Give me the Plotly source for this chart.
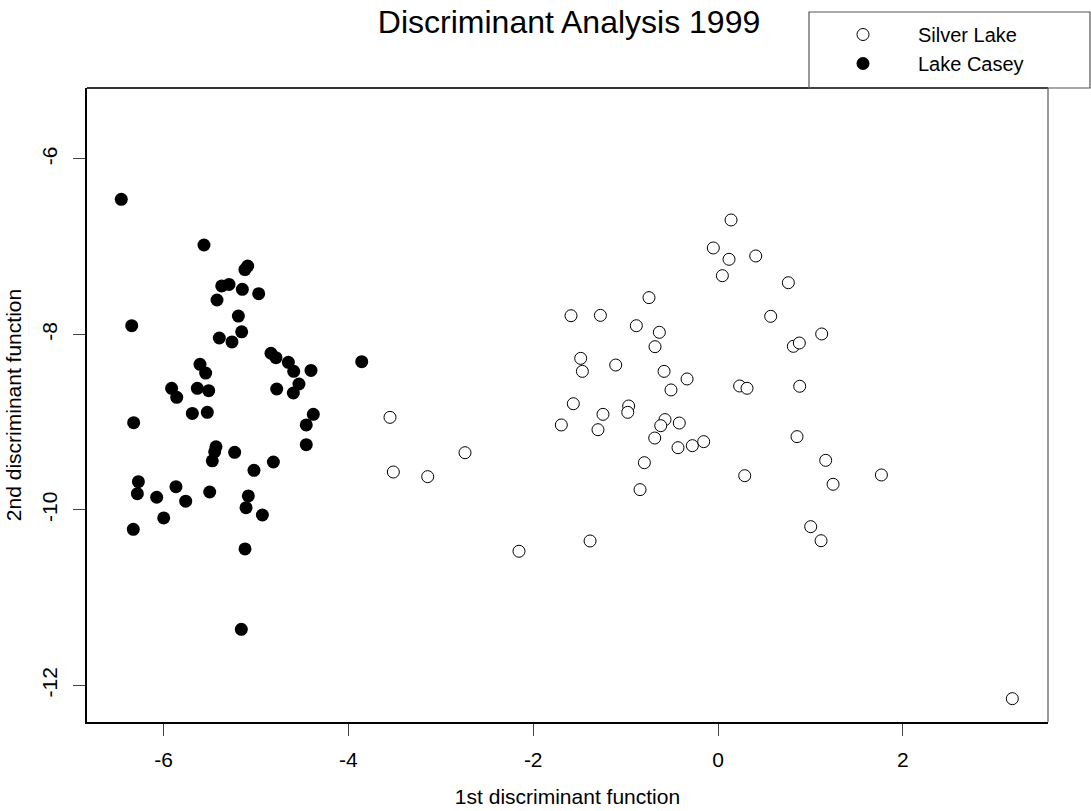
import plotly.graph_objects as go

# Lake Casey (filled)
casey_x = [-6.458, -5.563, -5.12, -5.09, -5.371, -5.292, -5.148, -4.971, -5.422, -6.345,
           -5.191, -5.155, -5.397, -5.26, -3.856, -4.838, -4.784, -4.65, -4.592, -4.405,
           -5.606, -5.545, -4.535, -5.913, -5.858, -5.635, -5.512, -4.776, -4.596, -6.324,
           -5.689, -5.527, -4.38, -4.456, -4.456, -5.433, -5.447, -5.473, -5.231, -4.812,
           -5.022, -6.273, -6.284, -6.075, -5.866, -5.761, -5.501, -5.083, -5.108, -4.931,
           -5.999, -6.328, -5.119, -5.159]
casey_y = [-6.46, -6.98, -7.26, -7.22, -7.447, -7.43, -7.485, -7.535, -7.607, -7.90,
           -7.79, -7.97, -8.04, -8.085, -8.31, -8.214, -8.264, -8.317, -8.42, -8.41,
           -8.34, -8.44, -8.564, -8.613, -8.716, -8.613, -8.64, -8.621, -8.667, -9.005,
           -8.90, -8.887, -8.91, -9.03, -9.256, -9.279, -9.336, -9.44, -9.343, -9.453,
           -9.548, -9.677, -9.814, -9.855, -9.734, -9.90, -9.795, -9.84, -9.974, -10.057,
           -10.09, -10.22, -10.444, -11.36]

# Silver Lake (open)
silver_x = [-3.55, -3.514, -3.142, -2.738, 0.141, -0.051, 0.119, 0.408, 0.047, 0.761,
            -0.747, -1.591, -1.273, 0.570, -0.884, -0.635, 1.122, -0.682, 0.815, 0.88,
            -1.486, -1.468, -1.107, -0.584, -0.335, -0.509, 0.234, 0.314, 0.884, -1.566,
            -0.967, -0.977, -1.245, -1.696, -1.299, -0.574, -0.62, -0.419, -0.685, -0.433,
            -0.278, -0.155, 0.855, -0.797, 1.165, 1.768, 0.289, 1.245, -0.844, 1.003,
            1.115, -1.385, -2.154, 3.185]
silver_y = [-8.944, -9.567, -9.62, -9.347, -6.695, -7.014, -7.143, -7.105, -7.33, -7.41,
            -7.58, -7.786, -7.782, -7.793, -7.90, -7.975, -7.994, -8.139, -8.135, -8.097,
            -8.272, -8.42, -8.348, -8.42, -8.507, -8.632, -8.587, -8.613, -8.59, -8.789,
            -8.815, -8.887, -8.91, -9.031, -9.085, -8.97, -9.039, -9.009, -9.18, -9.29,
            -9.267, -9.221, -9.164, -9.461, -9.434, -9.601, -9.609, -9.707, -9.768, -10.19,
            -10.35, -10.353, -10.47, -12.15]

x_ticks = [-6, -4, -2, 0, 2]
y_ticks = [-6, -8, -10, -12]

FONT = "Liberation Sans, Arial, sans-serif"

fig = go.Figure()
fig.add_trace(go.Scatter(
    x=silver_x, y=silver_y, mode="markers", name="Silver Lake",
    marker=dict(symbol="circle", size=12, color="white",
                line=dict(color="black", width=1)),
))
fig.add_trace(go.Scatter(
    x=casey_x, y=casey_y, mode="markers", name="Lake Casey",
    marker=dict(symbol="circle", size=13, color="black",
                line=dict(color="black", width=0)),
))

fig.update_layout(
    width=1091, height=811,
    margin=dict(l=87, r=43, t=88, b=89),
    paper_bgcolor="white", plot_bgcolor="white",
    font=dict(family=FONT, color="black"),
    title=dict(text="Discriminant Analysis 1999", font=dict(size=32, family=FONT),
               x=0.5016, xref="paper", xanchor="center",
               y=1 - 22 / 811, yref="container", yanchor="middle"),
    showlegend=True,
    legend=dict(x=(808 - 87) / 961, xanchor="left", y=(722 - 15) / 634, yanchor="top",
                bgcolor="rgba(0,0,0,0)", borderwidth=0, itemwidth=100,
                font=dict(size=20, family=FONT), tracegroupgap=0),
    xaxis=dict(range=[-6.829, 3.571], tickvals=x_ticks, ticktext=[str(v) for v in x_ticks],
               showgrid=False, zeroline=False, showline=True, linecolor="black", linewidth=2,
               ticks="outside", ticklen=12, tickwidth=1, tickcolor="#444",
               tickfont=dict(size=21), ticklabelstandoff=6, automargin=False,
               title=dict(text="1st discriminant function", font=dict(size=21), standoff=19)),
    yaxis=dict(range=[-12.416, -5.191], tickvals=y_ticks, ticktext=[str(v) for v in y_ticks],
               showgrid=False, zeroline=False, showline=True, linecolor="black", linewidth=2,
               ticks="outside", ticklen=12, tickwidth=1, tickcolor="#444",
               tickangle=-90, tickfont=dict(size=21), ticklabelstandoff=8, automargin=False,
               title=dict(text="2nd discriminant function", font=dict(size=21), standoff=10)),
    shapes=[
        dict(type="line", xref="paper", yref="paper", x0=0, x1=1, y0=1, y1=1,
             line=dict(color="#333", width=2)),
        dict(type="line", xref="paper", yref="paper", x0=1, x1=1, y0=0, y1=1,
             line=dict(color="#777", width=1.5)),
        dict(type="rect", xref="paper", yref="paper",
             x0=(809 - 87) / 961, x1=(1090 - 87) / 961,
             y0=1.0, y1=(722 - 12) / 634,
             line=dict(color="#555", width=1.2), fillcolor="rgba(0,0,0,0)"),
    ],
)

fig.write_html("out.html")
